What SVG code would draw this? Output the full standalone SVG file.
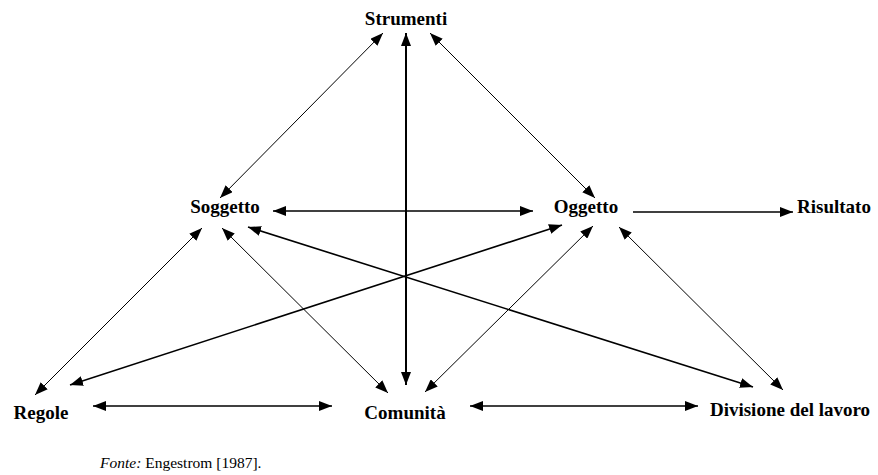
<svg xmlns="http://www.w3.org/2000/svg" width="878" height="475" viewBox="0 0 878 475">
<defs>
<style>
.lbl{font-family:"Liberation Serif","Times New Roman",serif;font-size:19px;fill:#000;text-anchor:middle;font-weight:bold}
.c{stroke:#000;fill:none;stroke-width:1}
.t{stroke-width:1.6}
.v{stroke-width:2}
.two{marker-start:url(#ah);marker-end:url(#ah)}
.one{marker-end:url(#ah)}
.src{font-family:"Liberation Serif","Times New Roman",serif;font-size:15.5px;fill:#000}
</style>
<marker id="ah" viewBox="0 0 13 10" refX="13" refY="5" markerUnits="userSpaceOnUse" markerWidth="13" markerHeight="10" orient="auto-start-reverse">
<path d="M0,0 L13,5 L0,10 z" fill="#000"/>
</marker>
</defs>
<rect width="878" height="475" fill="#fff"/>
<g id="connectors">
<line class="c two" x1="220" y1="198" x2="383" y2="33"/>
<line class="c v two" x1="406" y1="33" x2="406" y2="385"/>
<line class="c two" x1="430" y1="33" x2="595" y2="198"/>
<line class="c t two" x1="273" y1="211" x2="533" y2="211"/>
<line class="c t one" x1="633" y1="212" x2="793" y2="212"/>
<line class="c two" x1="202" y1="228" x2="35" y2="395"/>
<line class="c two" x1="222" y1="228" x2="388" y2="393"/>
<line class="c t two" x1="248" y1="227" x2="753" y2="387"/>
<line class="c t two" x1="70" y1="385" x2="562" y2="225"/>
<line class="c two" x1="425" y1="392" x2="593" y2="226"/>
<line class="c two" x1="619" y1="227" x2="783" y2="390"/>
<line class="c t two" x1="93" y1="406" x2="332" y2="406"/>
<line class="c t two" x1="470" y1="406" x2="698" y2="406"/>
</g>
<g id="strumenti"><text class="lbl" x="406" y="25">Strumenti</text></g>
<g id="soggetto"><text class="lbl" x="225" y="213">Soggetto</text></g>
<g id="oggetto"><text class="lbl" x="586" y="213">Oggetto</text></g>
<g id="risultato"><text class="lbl" x="834" y="213">Risultato</text></g>
<g id="regole"><text class="lbl" x="41" y="419">Regole</text></g>
<g id="comunita"><text class="lbl" x="405" y="419">Comunità</text></g>
<g id="divisione"><text class="lbl" x="790" y="416">Divisione del lavoro</text></g>
<g id="fonte"><text class="src" x="100" y="468"><tspan font-style="italic">Fonte:</tspan> Engestrom [1987].</text></g>
</svg>
